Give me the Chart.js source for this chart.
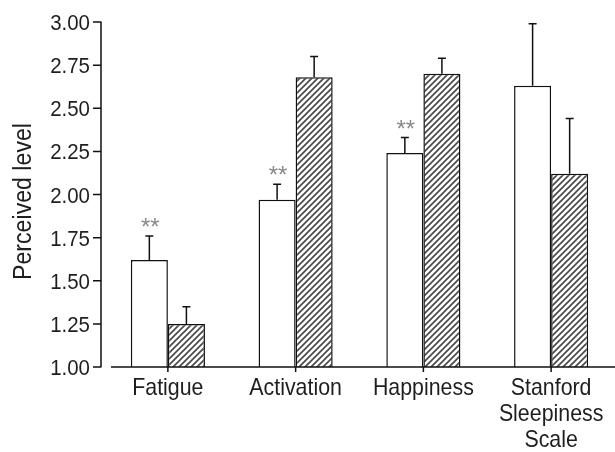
<!DOCTYPE html>
<html>
<head>
<meta charset="utf-8">
<script src="https://cdn.jsdelivr.net/npm/chart.js@4/dist/chart.umd.min.js"></script>
<style>
  html, body { margin: 0; padding: 0; background: #fff; }
  #wrap { width: 615px; height: 452px; }
</style>
</head>
<body>
<div id="wrap"><canvas id="c" width="615" height="452"></canvas></div>
<script>
// Measures on the x axis
const categories = ['Fatigue', 'Activation', 'Happiness', ['Stanford', 'Sleepiness', 'Scale']];

// Open bars: means and upper error (SE)
const openMeans = [1.62, 1.97, 2.24, 2.63];
const openErr   = [0.14, 0.09, 0.09, 0.36];

// Hatched bars: means and upper error (SE)
const hatchMeans = [1.25, 2.68, 2.70, 2.12];
const hatchErr   = [0.10, 0.12, 0.09, 0.32];

// Significance marks above the open bars
const marks = ['**', '**', '**', ''];

// Y axis range and tick step
const yMin = 1.0, yMax = 3.0, yStep = 0.25;
const yTitle = 'Perceived level';

const FONT = '"Liberation Sans", Arial, Helvetica, sans-serif';
const INK = '#1e1e1e';

// Diagonal hatch fill
function makeHatch() {
  const s = 6;
  const p = document.createElement('canvas');
  p.width = s; p.height = s;
  const g = p.getContext('2d');
  g.fillStyle = '#ffffff';
  g.fillRect(0, 0, s, s);
  g.strokeStyle = '#4a4a4a';
  g.lineWidth = 1.7;
  g.beginPath();
  g.moveTo(-1, s + 1); g.lineTo(s + 1, -1);
  g.moveTo(-1, 1);     g.lineTo(1, -1);
  g.moveTo(s - 1, s + 1); g.lineTo(s + 1, s - 1);
  g.stroke();
  return g.createPattern(p, 'repeat');
}

const errorSets = [openErr, hatchErr];

// Condensed text helper: draws a string squeezed horizontally
function narrowText(ctx, text, x, y, size, squeeze, align) {
  ctx.save();
  ctx.font = size + 'px ' + FONT;
  ctx.textAlign = align;
  ctx.textBaseline = 'alphabetic';
  ctx.translate(x, y);
  ctx.scale(squeeze, 1);
  ctx.fillText(text, 0, 0);
  ctx.restore();
}

// Axes, tick labels, error bars, significance marks and y title
const decorations = {
  id: 'decorations',
  afterDatasetsDraw(chart) {
    const ctx = chart.ctx;
    const x = chart.scales.x, y = chart.scales.y;
    const area = chart.chartArea;
    const y0 = y.getPixelForValue(yMin);
    const yTop = y.getPixelForValue(yMax);
    ctx.save();
    ctx.strokeStyle = '#111';
    ctx.lineWidth = 1.5;

    // error bars (upward only, with cap)
    chart.data.datasets.forEach((ds, di) => {
      const meta = chart.getDatasetMeta(di);
      meta.data.forEach((bar, i) => {
        const top = y.getPixelForValue(ds.data[i] + errorSets[di][i]);
        const bx = bar.x;
        ctx.beginPath();
        ctx.moveTo(bx, bar.y);
        ctx.lineTo(bx, top);
        ctx.moveTo(bx - 4, top);
        ctx.lineTo(bx + 4, top);
        ctx.stroke();
      });
    });

    // significance marks
    ctx.fillStyle = '#8a8a8a';
    ctx.font = '24px ' + FONT;
    ctx.textAlign = 'center';
    ctx.textBaseline = 'alphabetic';
    const m0 = chart.getDatasetMeta(0);
    marks.forEach((mk, i) => {
      if (!mk) return;
      const top = y.getPixelForValue(openMeans[i] + openErr[i]);
      ctx.fillText(mk, m0.data[i].x + 1, top - 1);
    });

    // y axis line and ticks
    const ax = area.left - 3;
    ctx.beginPath();
    ctx.moveTo(ax, yTop - 0.5);
    ctx.lineTo(ax, y0 + 0.5);
    y.ticks.forEach(t => {
      const py = y.getPixelForValue(t.value);
      ctx.moveTo(ax - 8, py);
      ctx.lineTo(ax, py);
    });
    // x axis line and ticks
    ctx.moveTo(area.left + 7, y0);
    ctx.lineTo(area.right, y0);
    chart.data.labels.forEach((c, i) => {
      const px = x.getPixelForValue(i);
      ctx.moveTo(px, y0);
      ctx.lineTo(px, y0 + 5);
    });
    ctx.stroke();

    // tick labels
    ctx.fillStyle = INK;
    y.ticks.forEach(t => {
      const py = y.getPixelForValue(t.value);
      narrowText(ctx, Number(t.value).toFixed(2), ax - 11, py + 8, 22, 0.93, 'right');
    });
    chart.data.labels.forEach((lab, i) => {
      const px = x.getPixelForValue(i);
      const lines = Array.isArray(lab) ? lab : [lab];
      lines.forEach((ln, k) => {
        narrowText(ctx, ln, px, y0 + 28 + k * 26, 24, 0.89, 'center');
      });
    });

    // y axis title
    ctx.save();
    ctx.translate(31, (yTop + y0) / 2 + 7);
    ctx.rotate(-Math.PI / 2);
    narrowText(ctx, yTitle, 0, 0, 26, 0.89, 'center');
    ctx.restore();

    ctx.restore();
  }
};

const ctx = document.getElementById('c').getContext('2d');
new Chart(ctx, {
  type: 'bar',
  data: {
    labels: categories,
    datasets: [
      {
        label: 'Open',
        data: openMeans,
        base: yMin,
        backgroundColor: '#ffffff',
        borderColor: '#111',
        borderWidth: 1.5,
        categoryPercentage: 0.58,
        barPercentage: 1.0
      },
      {
        label: 'Hatched',
        data: hatchMeans,
        base: yMin,
        backgroundColor: makeHatch(),
        borderColor: '#111',
        borderWidth: 1.5,
        categoryPercentage: 0.58,
        barPercentage: 1.0
      }
    ]
  },
  options: {
    responsive: false,
    animation: false,
    devicePixelRatio: 1,
    layout: { padding: { top: 22, right: 0, bottom: 0, left: 0 } },
    plugins: {
      legend: { display: false },
      tooltip: { enabled: false }
    },
    scales: {
      x: {
        grid: { display: false },
        border: { display: false },
        ticks: { display: false },
        afterFit(scale) { scale.height = 85; }
      },
      y: {
        min: yMin,
        max: yMax,
        grid: { display: false },
        border: { display: false },
        ticks: { display: false, stepSize: yStep },
        afterFit(scale) { scale.width = 104; }
      }
    }
  },
  plugins: [decorations]
});
</script>
</body>
</html>
